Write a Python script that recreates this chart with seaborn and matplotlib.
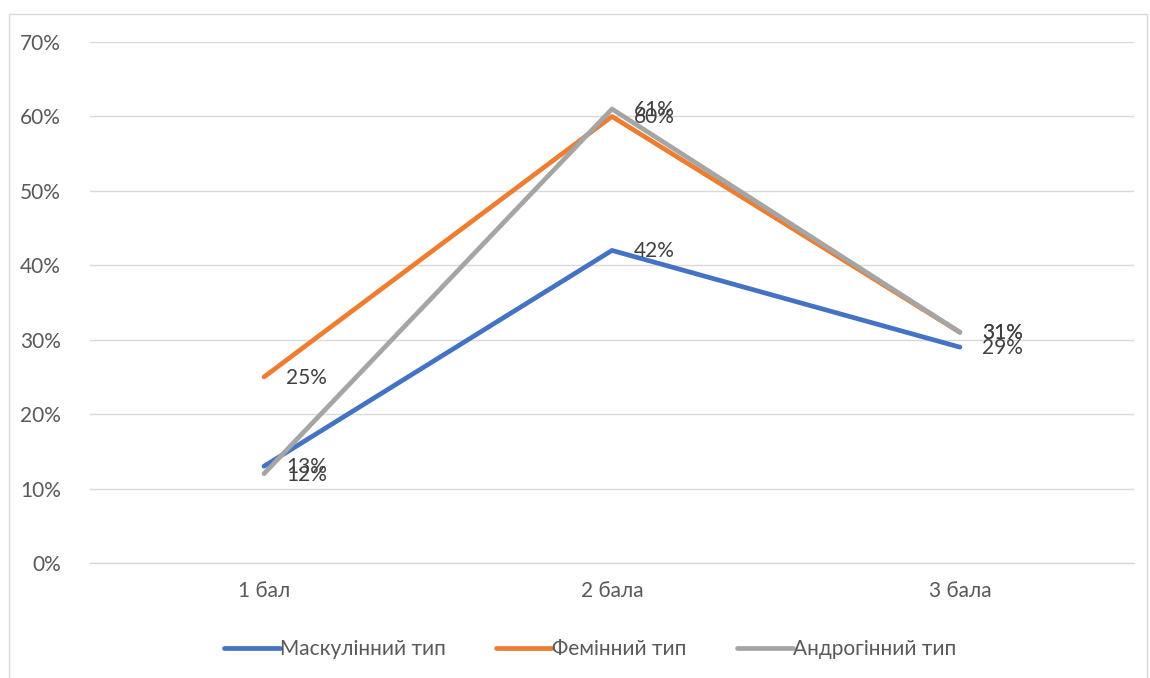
import matplotlib
matplotlib.use("Agg")
import matplotlib.pyplot as plt
import seaborn as sns
import pandas as pd
from matplotlib.patches import Rectangle
from matplotlib.ticker import FuncFormatter

categories = ["1 бал", "2 бала", "3 бала"]
series_names = ["Маскулінний тип", "Фемінний тип", "Андрогінний тип"]
masc = [0.13, 0.42, 0.29]
fem = [0.25, 0.60, 0.31]
andr = [0.12, 0.61, 0.31]
colors = ["#4472C4", "#ED7D31", "#A5A5A5"]

rows = []
for name, vals in zip(series_names, [masc, fem, andr]):
    for i, (c, v) in enumerate(zip(categories, vals)):
        rows.append({"cat": c, "x": i, "val": v, "series": name})
df = pd.DataFrame(rows)

sns.set_theme(style="white")
plt.rcParams['font.family'] = ['Lato', 'DejaVu Sans']

FS = 15

fig = plt.figure(figsize=(11.5, 6.78), dpi=100)
ax = fig.add_axes([0.0783, 0.1696, 0.9077, 0.7684])

sns.lineplot(data=df, x="x", y="val", hue="series", hue_order=series_names,
             palette=colors, linewidth=3.4, ax=ax, legend=True, sort=False,
             solid_capstyle="round")

# data labels
text_color = "#404040"
for name, vals in zip(series_names, [masc, fem, andr]):
    for i, v in enumerate(vals):
        ax.annotate(f"{round(v*100)}%", (i, v), xytext=(22, -1), textcoords="offset pixels",
                    ha="left", va="center", fontsize=FS, color=text_color)

ax.set_xlim(-0.5, 2.5)
ax.set_ylim(0, 0.70)
ax.set_yticks([i / 10 for i in range(8)])
ax.yaxis.set_major_formatter(FuncFormatter(lambda v, p: f"{round(v*100)}%"))
ax.set_xticks(range(len(categories)))
ax.set_xticklabels(categories)
ax.set_xlabel("")
ax.set_ylabel("")
ax.tick_params(axis="both", length=0, labelsize=FS, labelcolor="#595959")
ax.tick_params(axis="y", pad=21)
ax.tick_params(axis="x", pad=13)
ax.grid(axis="y", color="#D9D9D9", linewidth=1)
ax.set_axisbelow(True)
for s in ["top", "right", "left"]:
    ax.spines[s].set_visible(False)
ax.spines["bottom"].set_color("#D9D9D9")
ax.spines["bottom"].set_linewidth(1)

handles, labels = ax.get_legend_handles_labels()
leg = ax.legend(handles, labels, loc="center", bbox_to_anchor=(0.479, -0.165), ncol=3,
                frameon=False, fontsize=FS, handlelength=2.7, handletextpad=0.0,
                columnspacing=2.4, labelcolor="#595959")
for h in leg.get_lines():
    h.set_solid_capstyle("round")
    h.set_linewidth(3.4)

fig.patches.append(Rectangle((9 / 1150, -0.05), 1138 / 1150, 1 - 14 / 678 + 0.05,
                             transform=fig.transFigure, fill=False,
                             edgecolor="#D9D9D9", linewidth=1))

fig.savefig("out.png", dpi=100)
